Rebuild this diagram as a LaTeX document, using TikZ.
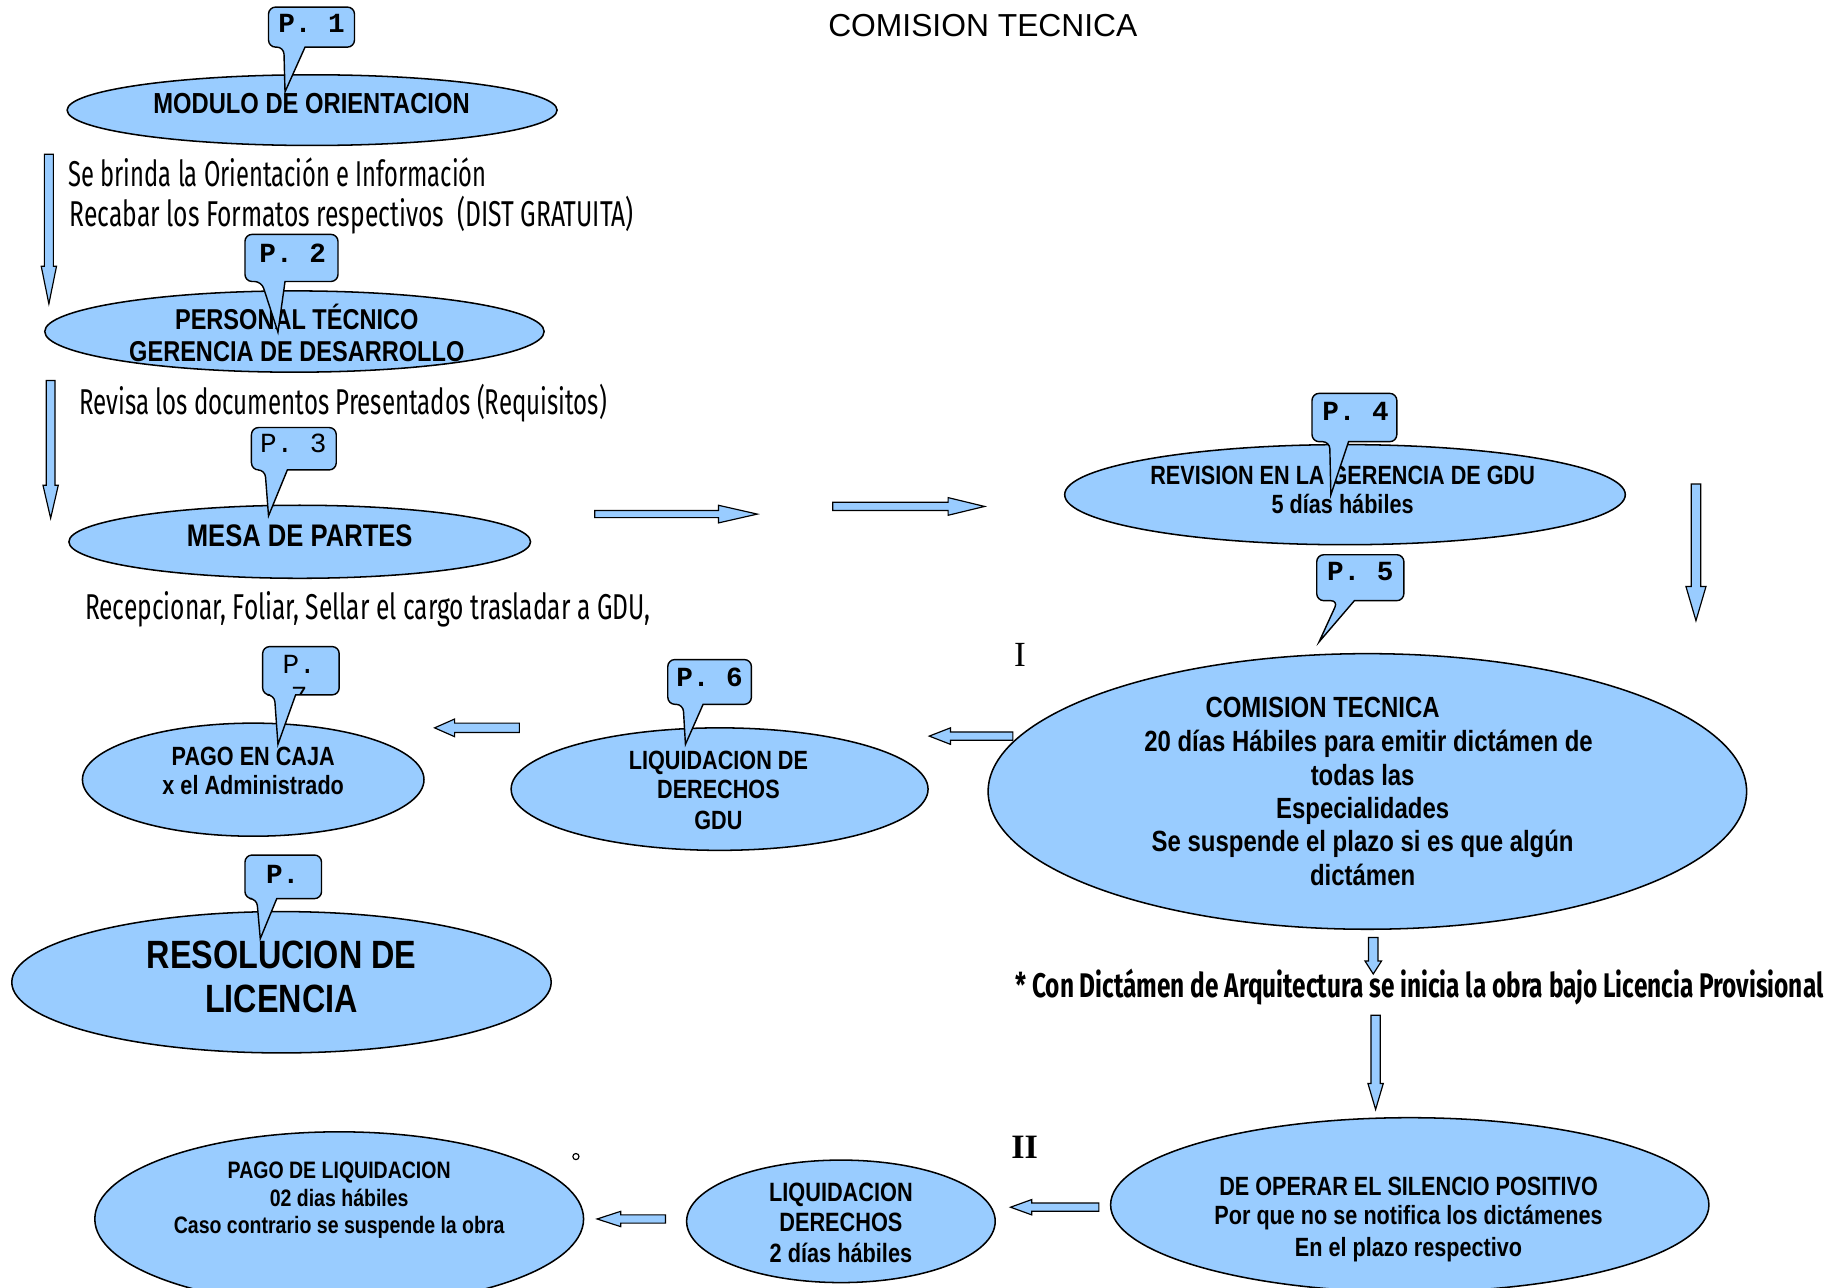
\documentclass[tikz,border=0pt]{standalone}
\usepackage{fontspec}
\usepackage{graphicx}
\usetikzlibrary{shapes.geometric}
\setmainfont{Liberation Sans}
\newfontfamily\narrowf[FakeStretch=0.82]{Liberation Sans}
\newfontfamily\agencyf{Fira Sans}
\newfontfamily\courf{Liberation Mono}
\newfontfamily\timesf{Liberation Serif}
\definecolor{lb}{HTML}{99CCFF}
\newcommand\fsz[2]{\fontsize{#1pt}{#2pt}\selectfont}
\newcommand\fitw[2]{\resizebox{#1pt}{\height}{#2}}
% block arrows: #1 start, #2 tip, #3 shaft half width, #4 head half width, #5 head length
\newcommand\ArrD[5]{\draw[barrow] ([xshift=-#3pt]#1) -- ([xshift=#3pt]#1) -- ([xshift=#3pt,yshift=#5pt]#2) -- ([xshift=#4pt,yshift=#5pt]#2) -- (#2) -- ([xshift=-#4pt,yshift=#5pt]#2) -- ([xshift=-#3pt,yshift=#5pt]#2) -- cycle;}
\newcommand\ArrL[5]{\draw[barrow] ([yshift=#3pt]#1) -- ([xshift=#5pt,yshift=#3pt]#2) -- ([xshift=#5pt,yshift=#4pt]#2) -- (#2) -- ([xshift=#5pt,yshift=-#4pt]#2) -- ([xshift=#5pt,yshift=-#3pt]#2) -- ([yshift=-#3pt]#1) -- cycle;}
\newcommand\ArrR[5]{\draw[barrow] ([yshift=#3pt]#1) -- ([xshift=-#5pt,yshift=#3pt]#2) -- ([xshift=-#5pt,yshift=#4pt]#2) -- (#2) -- ([xshift=-#5pt,yshift=-#4pt]#2) -- ([xshift=-#5pt,yshift=-#3pt]#2) -- ([yshift=-#3pt]#1) -- cycle;}
% callout: #1 x1, #2 y1 (top), #3 x2, #4 y2 (bottom), #5 tail base left, #6 tail base right, #7 tip
\newcommand\Callout[7]{\draw[cfill] (#5,#4) -- (#7) -- (#6,#4) [rounded corners=6pt] -- (#3,#4) -- (#3,#2) -- (#1,#2) -- (#1,#4) -- cycle;}
\tikzset{
  ell/.style={ellipse, draw=black, fill=lb, line width=1.3pt, inner sep=0pt},
  barrow/.style={draw=black, fill=lb, line width=1pt, line join=miter},
  cfill/.style={draw=black, fill=lb, line width=1.2pt, line join=miter},
  lbl/.style={inner sep=0pt, anchor=base},
  lblw/.style={inner sep=0pt, anchor=base west},
  nb/.style={lbl, font=\narrowf\bfseries\fsz{#1}{#1}},
  pbold/.style={lbl, font=\courf\bfseries\fsz{23.5}{27}},
  preg/.style={lbl, font=\courf\fsz{23.5}{27}},
  ann/.style={lblw, font=\agencyf\fsz{30.5}{32}},
  annb/.style={lblw, font=\agencyf\bfseries\fsz{29}{32}},
}
\begin{document}
\begin{tikzpicture}[x=1pt,y=-1pt]
\useasboundingbox (0,0) rectangle (1564,1092.8);
\fill[white] (0,0) rectangle (1564,1092.8);
\clip (0,0) rectangle (1564,1092.8);

% title
\node[lbl, font=\fsz{27}{30}] (title) at (834.5,31) {COMISION TECNICA};

% ---- ellipses and their texts
\node[ell, minimum width=416pt, minimum height=60pt] (e1) at (265,93.5) {};
\node[nb=24.6] (t1) at (264.5,96.5) {MODULO DE ORIENTACION};

\node[ell, minimum width=424pt, minimum height=69pt] (e2) at (250,281.5) {};
\node[nb=24.4] (t2a) at (252,280) {PERSONAL TÉCNICO};
\node[nb=24.4] (t2b) at (252,307) {GERENCIA DE DESARROLLO};

\node[ell, minimum width=392pt, minimum height=62pt] (e3) at (254.5,460) {};
\node[nb=26.5] (t3) at (254.5,464) {MESA DE PARTES};

\node[ell, minimum width=476pt, minimum height=85pt] (e4) at (1142,420) {};
\node[nb=22.4] (t4a) at (1140,411) {REVISION EN LA GERENCIA DE GDU};
\node[nb=22.4] (t4b) at (1140,436) {5 días hábiles};

\node[ell, minimum width=644pt, minimum height=234pt] (e5) at (1161,672) {};
\node[nb=24.8] (t5a) at (1123,609) {COMISION TECNICA};
\node[nb=24.8] (t5b) at (1162,638) {20 días Hábiles para emitir dictámen de};
\node[nb=24.8] (t5c) at (1157,667) {todas las};
\node[nb=24.8] (t5d) at (1157,695) {Especialidades};
\node[nb=24.8] (t5e) at (1157,723) {Se suspende el plazo si es que algún};
\node[nb=24.8] (t5f) at (1157,752) {dictámen};

\node[ell, minimum width=354pt, minimum height=104pt] (e6) at (611,670) {};
\node[nb=22.4] (t6a) at (610,653) {LIQUIDACION DE};
\node[nb=22.4] (t6b) at (610,678) {DERECHOS};
\node[nb=22.4] (t6c) at (610,704) {GDU};

\node[ell, minimum width=290pt, minimum height=96pt] (e7) at (215,662) {};
\node[nb=22.4] (t7a) at (215,650) {PAGO EN CAJA};
\node[nb=22.4] (t7b) at (215,675) {x el Administrado};

\node[ell, minimum width=458pt, minimum height=120pt] (e8) at (239,834) {};
\node[nb=33.5] (t8a) at (239,822) {RESOLUCION DE};
\node[nb=33.5] (t8b) at (239,860) {LICENCIA};

\node[ell, minimum width=508pt, minimum height=148pt] (e9) at (1197,1023) {};
\node[nb=22.4] (t9a) at (1196,1015) {DE OPERAR EL SILENCIO POSITIVO};
\node[nb=22.4] (t9b) at (1196,1040) {Por que no se notifica los dictámenes};
\node[nb=22.4] (t9c) at (1196,1067) {En el plazo respectivo};

\node[ell, minimum width=262pt, minimum height=104pt] (e10) at (714,1037) {};
\node[nb=22.5] (t10a) at (714,1020) {LIQUIDACION};
\node[nb=22.5] (t10b) at (714,1046) {DERECHOS};
\node[nb=22.5] (t10c) at (714,1072) {2 días hábiles};

\node[ell, minimum width=415pt, minimum height=148pt] (e11) at (288,1035) {};
\node[nb=20.2] (t11a) at (288,1001) {PAGO DE LIQUIDACION};
\node[nb=20.2] (t11b) at (288,1024) {02 dias hábiles};
\node[nb=20.2] (t11c) at (288,1047) {Caso contrario se suspende la obra};

% ---- free texts
\node[ann] (n1) at (58,158) {\fitw{355}{Se brinda la Orientación e Información}};
\node[ann] (n2) at (59,192.5) {\fitw{479}{Recabar los Formatos respectivos\ \ (DIST GRATUITA)}};
\node[ann] (n3) at (67,352) {\fitw{448}{Revisa los documentos Presentados (Requisitos)}};
\node[ann] (n4) at (72,526) {\fitw{480}{Recepcionar, Foliar, Sellar el cargo trasladar a GDU,}};
\node[annb] (n5) at (862,847) {\fitw{686}{* Con Dictámen de Arquitectura se inicia la obra bajo Licencia Provisional}};
\node[lbl, font=\timesf\fsz{30}{30}] (r1) at (866,566) {I};
\node[lbl, font=\timesf\bfseries\fsz{29}{29}] (r2) at (870,984) {II};
\draw[line width=1pt] (489,982) circle (2.6pt);

% ---- block arrows
\coordinate (a1s) at (41.5,131); \coordinate (a1t) at (41.5,258);
\ArrD{a1s}{a1t}{3.8}{6.5}{32}
\coordinate (a2s) at (43,323); \coordinate (a2t) at (43,440);
\ArrD{a2s}{a2t}{3.7}{6.5}{28}
\coordinate (a3s) at (505,436.5); \coordinate (a3t) at (643,436.5);
\ArrR{a3s}{a3t}{3}{7.5}{33}
\coordinate (a4s) at (707,430); \coordinate (a4t) at (836,430);
\ArrR{a4s}{a4t}{3.5}{7.5}{31}
\coordinate (a5s) at (1440,411); \coordinate (a5t) at (1440,527);
\ArrD{a5s}{a5t}{4}{8.5}{29}
\coordinate (a6s) at (860,625); \coordinate (a6t) at (789,625);
\ArrL{a6s}{a6t}{3.5}{7}{18}
\coordinate (a7s) at (441,618); \coordinate (a7t) at (369,618);
\ArrL{a7s}{a7t}{4}{7.5}{17}
\coordinate (a8s) at (1166,796); \coordinate (a8t) at (1166,827);
\ArrD{a8s}{a8t}{4}{7}{11}
\coordinate (a9s) at (1168,862); \coordinate (a9t) at (1168,942);
\ArrD{a9s}{a9t}{4}{6.5}{22}
\coordinate (a10s) at (933,1025); \coordinate (a10t) at (858,1025);
\ArrL{a10s}{a10t}{3.5}{6.5}{18}
\coordinate (a11s) at (565,1035); \coordinate (a11t) at (507,1035);
\ArrL{a11s}{a11t}{3.5}{6.5}{20}

% ---- callouts
\coordinate (p1t) at (242,78);
\Callout{228}{6}{301}{40}{241}{259}{p1t}
\node[pbold] (p1) at (264.5,28) {P. 1};

\coordinate (p2t) at (236,282);
\Callout{208}{199}{287}{239}{222}{242}{p2t}
\node[pbold] (p2) at (248.5,223) {P. 2};

\coordinate (p3t) at (228,438);
\Callout{213.5}{363}{285.5}{399}{225}{244}{p3t}
\node[preg] (p3) at (249,384) {P. 3};

\coordinate (p4t) at (1130,420);
\Callout{1114}{334}{1186}{375}{1129}{1145}{p4t}
\node[pbold] (p4) at (1151,357) {P. 4};

\coordinate (p5t) at (1120,545);
\Callout{1118}{471}{1192}{510}{1136}{1150}{p5t}
\node[pbold] (p5) at (1155,493) {P. 5};

\coordinate (p6t) at (582,632);
\Callout{567}{560}{638}{598}{580}{597}{p6t}
\node[pbold] (p6) at (602.5,583) {P. 6};

\coordinate (p7t) at (236,632);
\Callout{223}{549}{288}{590}{233}{251}{p7t}
\begin{scope}
\clip (224,550) rectangle (287,588.6);
\node[preg] (p7) at (254,572) {P.};
\node[preg] (p7b) at (254,599) {7};
\end{scope}

\coordinate (p8t) at (221,797);
\Callout{208}{726}{273}{763}{218}{235}{p8t}
\node[pbold] (p8) at (240,750) {P.};
\end{tikzpicture}
\end{document}
